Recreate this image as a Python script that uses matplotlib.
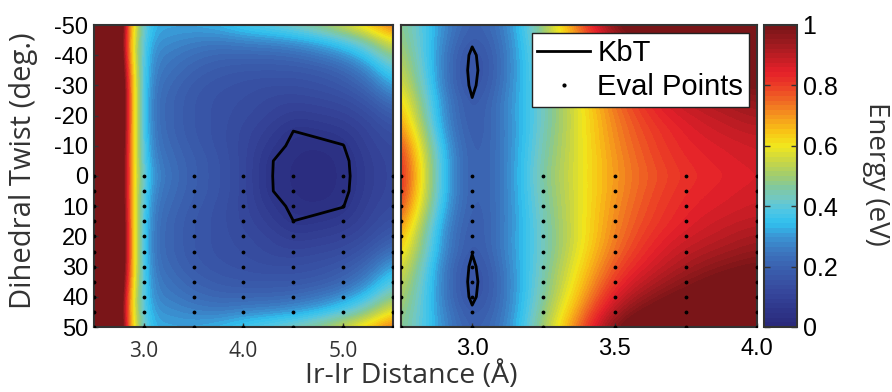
import numpy as np
import matplotlib
matplotlib.use("Agg")
import matplotlib.pyplot as plt
from matplotlib.colors import LinearSegmentedColormap
from matplotlib.lines import Line2D

plt.rcParams["axes.unicode_minus"] = False

# ---------------------------------------------------------------- data
KBT = 0.0257  # eV, thermal energy at room temperature

twist = [0, 5, 10, 15, 20, 25, 30, 35, 40, 45, 50]   # deg (mirrored to negative)

# wide scan: Ir-Ir distance 2.5 .. 5.5 A
dist_wide = [2.5, 2.75, 3.0, 3.25, 3.5, 3.75, 4.0, 4.25, 4.5, 4.75, 5.0, 5.25, 5.5]
energy_wide = [
    # 2.5  2.75  3.0   3.25  3.5   3.75  4.0   4.25  4.5    4.75   5.0    5.25   5.5
    [3.0, 1.05, 0.32, 0.24, 0.19, 0.16, 0.12, 0.05, 0.025, 0.020, 0.030, 0.086, 0.12],
    [3.0, 1.05, 0.30, 0.23, 0.19, 0.16, 0.12, 0.05, 0.028, 0.022, 0.032, 0.090, 0.12],
    [3.0, 1.08, 0.28, 0.22, 0.18, 0.15, 0.12, 0.07, 0.035, 0.030, 0.044, 0.100, 0.13],
    [3.0, 1.10, 0.27, 0.21, 0.17, 0.15, 0.12, 0.09, 0.046, 0.060, 0.070, 0.110, 0.15],
    [3.0, 1.12, 0.26, 0.21, 0.17, 0.15, 0.13, 0.11, 0.080, 0.090, 0.100, 0.130, 0.19],
    [3.0, 1.12, 0.26, 0.21, 0.17, 0.15, 0.14, 0.12, 0.110, 0.120, 0.130, 0.170, 0.25],
    [3.0, 1.10, 0.27, 0.22, 0.18, 0.16, 0.15, 0.14, 0.140, 0.150, 0.170, 0.220, 0.33],
    [3.0, 1.05, 0.28, 0.24, 0.20, 0.18, 0.17, 0.17, 0.170, 0.180, 0.210, 0.280, 0.40],
    [3.0, 0.98, 0.29, 0.26, 0.23, 0.21, 0.21, 0.21, 0.220, 0.250, 0.290, 0.360, 0.49],
    [3.0, 0.95, 0.31, 0.29, 0.27, 0.26, 0.28, 0.29, 0.310, 0.340, 0.390, 0.470, 0.61],
    [3.0, 0.98, 0.33, 0.32, 0.32, 0.34, 0.38, 0.41, 0.440, 0.490, 0.560, 0.650, 0.76],
]

# close-up scan: Ir-Ir distance 2.75 .. 4.0 A
dist_close = [2.75, 2.875, 3.0, 3.125, 3.25, 3.375, 3.5, 3.625, 3.75, 3.875, 4.0]
energy_close = [
    # 2.75 2.875 3.0    3.125 3.25  3.375 3.5   3.625 3.75  3.875 4.0
    [0.90, 0.39, 0.150, 0.27, 0.47, 0.58, 0.70, 0.77, 0.82, 0.84, 0.86],
    [0.88, 0.39, 0.150, 0.27, 0.46, 0.58, 0.70, 0.78, 0.83, 0.85, 0.87],
    [0.84, 0.37, 0.150, 0.27, 0.45, 0.58, 0.71, 0.79, 0.84, 0.86, 0.88],
    [0.78, 0.34, 0.145, 0.27, 0.44, 0.58, 0.72, 0.80, 0.85, 0.88, 0.90],
    [0.72, 0.32, 0.140, 0.28, 0.43, 0.58, 0.73, 0.82, 0.87, 0.90, 0.93],
    [0.67, 0.32, 0.130, 0.28, 0.43, 0.59, 0.75, 0.84, 0.90, 0.93, 0.96],
    [0.62, 0.30, 0.108, 0.27, 0.44, 0.61, 0.78, 0.87, 0.93, 0.97, 1.00],
    [0.58, 0.30, 0.100, 0.26, 0.45, 0.63, 0.82, 0.91, 0.97, 1.02, 1.05],
    [0.55, 0.30, 0.108, 0.26, 0.46, 0.66, 0.87, 0.96, 1.02, 1.06, 1.10],
    [0.52, 0.31, 0.140, 0.26, 0.48, 0.70, 0.93, 1.02, 1.07, 1.12, 1.15],
    [0.50, 0.32, 0.160, 0.27, 0.50, 0.75, 1.00, 1.08, 1.12, 1.16, 1.20],
]

# points where the energy was actually evaluated
eval_wide_x = [2.5, 3.0, 3.5, 4.0, 4.5, 5.0, 5.5]
eval_close_x = [2.75, 3.0, 3.25, 3.5, 3.75, 4.0]
eval_twist = [0, 5, 10, 15, 20, 25, 30, 35, 40, 45, 50]

twist_ticks = [-50, -40, -30, -20, -10, 0, 10, 20, 30, 40, 50]
wide_ticks = [3.0, 4.0, 5.0]
close_ticks = [3.0, 3.5, 4.0]
cbar_ticks = [0, 0.2, 0.4, 0.6, 0.8, 1.0]
cbar_labels = ["0", "0.2", "0.4", "0.6", "0.8", "1"]

# ---------------------------------------------------------------- colormap
cmap_nodes = [
    (0.00, "#2a2a7c"), (0.05, "#2e368a"), (0.10, "#354499"), (0.15, "#3853a5"),
    (0.20, "#3b63b1"), (0.25, "#3c78c0"), (0.30, "#3a98d6"), (0.34, "#30c0ee"),
    (0.38, "#4cc6e6"), (0.42, "#70c8c8"), (0.46, "#80c8a0"), (0.50, "#a0cc70"),
    (0.55, "#c8d645"), (0.60, "#f1e71d"), (0.65, "#f8c416"), (0.70, "#f5981d"),
    (0.75, "#f06b23"), (0.80, "#ec3f26"), (0.85, "#e5202a"), (0.90, "#c01d24"),
    (0.95, "#9a1a1e"), (1.00, "#7a1518"),
]
energy_cmap = LinearSegmentedColormap.from_list("energy", cmap_nodes, N=64)

ARIAL = "Liberation Sans"
HUMANIST = "Open Sans"
SPINE = "#333333"

fig = plt.figure(figsize=(8.92, 3.92), dpi=100)
W, H = 892, 392


def box(x0, y0, x1, y1):
    return [x0 / W, 1 - y1 / H, (x1 - x0) / W, (y1 - y0) / H]


ax_w = fig.add_axes(box(94, 25, 393, 327))
ax_c = fig.add_axes(box(401, 25, 757, 327))
cax = fig.add_axes(box(764, 25, 797, 327))


def mirror(rows):
    arr = np.asarray(rows, dtype=float)
    return np.vstack([arr[:0:-1], arr])


def panel(ax, xs, rows):
    xs = np.asarray(xs, dtype=float)
    ys = np.asarray(twist, dtype=float)
    ys_full = np.concatenate([-ys[:0:-1], ys])
    E = mirror(rows)
    dx = xs[1] - xs[0]
    dy = ys[1] - ys[0]
    im = ax.imshow(E, cmap=energy_cmap, vmin=0, vmax=1, aspect="auto",
                   origin="upper", interpolation="bicubic",
                   interpolation_stage="data",
                   extent=[xs[0] - dx / 2, xs[-1] + dx / 2,
                           ys_full[-1] + dy / 2, ys_full[0] - dy / 2])
    level = E.min() + KBT
    ax.contour(xs, ys_full, E, levels=[level], colors="k", linewidths=2.0,
               zorder=3)
    ax.set_xlim(xs[0], xs[-1])
    ax.set_ylim(50, -50)
    for s in ax.spines.values():
        s.set_color(SPINE)
        s.set_linewidth(1.5)
    return im


im = panel(ax_w, dist_wide, energy_wide)
panel(ax_c, dist_close, energy_close)

# evaluation grid
for ax, ex in ((ax_w, eval_wide_x), (ax_c, eval_close_x)):
    gx, gy = np.meshgrid(ex, eval_twist)
    ax.plot(gx.ravel(), gy.ravel(), ls="none", marker=".", color="k",
            markersize=3.5, zorder=4)

# ticks
ax_w.set_yticks(twist_ticks)
ax_w.set_yticklabels([str(t) for t in twist_ticks], fontfamily=ARIAL,
                     fontsize=17)
ax_w.set_xticks(wide_ticks)
ax_w.set_xticklabels([f"{t:.1f}" for t in wide_ticks], fontfamily=HUMANIST,
                     fontsize=15, color="#333333")
ax_w.tick_params(direction="in", length=3, width=1, color=SPINE,
                 top=False, right=False)
ax_w.tick_params(axis="y", pad=4)
ax_w.tick_params(axis="x", pad=10)

ax_c.set_yticks([])
ax_c.set_xticks(close_ticks)
ax_c.set_xticklabels([f"{t:.1f}" for t in close_ticks], fontfamily=ARIAL,
                     fontsize=17)
ax_c.tick_params(direction="in", length=3, width=1, color=SPINE, pad=8)

# colorbar
cb = fig.colorbar(im, cax=cax, ticks=cbar_ticks)
cb.ax.set_yticklabels(cbar_labels, fontfamily=ARIAL, fontsize=18)
cb.ax.tick_params(direction="in", length=4, width=1, color=SPINE,
                  left=True, right=True, pad=4)
cb.outline.set_edgecolor(SPINE)
cb.outline.set_linewidth(1.5)

# legend
handles = [Line2D([], [], color="k", lw=2.0),
           Line2D([], [], ls="none", marker=".", color="k", markersize=4)]
leg = ax_c.legend(handles, ["KbT", "Eval Points"], loc="upper right",
                  prop={"family": ARIAL, "size": 21}, fancybox=False,
                  framealpha=1, edgecolor="#222222", handlelength=1.8,
                  handletextpad=0.25, borderpad=0.2, labelspacing=0.2,
                  borderaxespad=0.28)
leg.get_frame().set_linewidth(1.0)

# axis titles
fig.text(411 / W, 1 - 361 / H, "Ir-Ir Distance (Å)", ha="center", va="top",
         fontfamily=HUMANIST, fontsize=20.5, color="#333333")
fig.text(24 / W, 1 - 171 / H, "Dihedral Twist (deg.)", ha="center",
         va="center", rotation=90, fontfamily=HUMANIST, fontsize=21,
         color="#333333")
fig.text(876 / W, 1 - 174 / H, "Energy (eV)", ha="center", va="center",
         rotation=270, fontfamily=HUMANIST, fontsize=20, color="#333333")

fig.savefig("out.png", dpi=100)
